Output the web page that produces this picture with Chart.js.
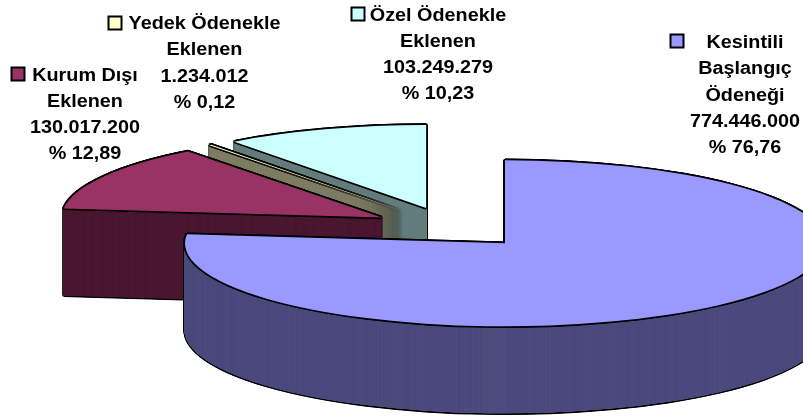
<!DOCTYPE html>
<html><head><meta charset="utf-8">
<style>html,body{margin:0;padding:0;background:#fff;overflow:hidden}canvas{display:block}</style>
<script src="https://cdn.jsdelivr.net/npm/chart.js@4"></script></head>
<body><canvas id="c" width="803" height="417"></canvas>
<script>
const categories = ['Kesintili Başlangıç Ödeneği','Kurum Dışı Eklenen','Yedek Ödenekle Eklenen','Özel Ödenekle Eklenen'];
const values = [774446000,130017200,1234012,103249279];
const valueLabels = ['774.446.000','130.017.200','1.234.012','103.249.279'];
const percentLabels = ['% 76,76','% 12,89','% 0,12','% 10,23'];
const topColors = ['#9999FF','#993366','#FFFFCC','#CCFFFF'];
const wallColors = ['#4C4C7F','#4C1933','#7F7F66','#667F7F'];
const nameLines = [['Kesintili','Başlangıç','Ödeneği'],['Kurum Dışı','Eklenen'],['Yedek Ödenekle','Eklenen'],['Özel Ödenekle','Eklenen']];

// layout
const CX=451.5, CY=227.8, RX=320, RY=83, DEPTH=87, EXPLODE=80.2, EDGE=1.7, FONT_PX=18, STRETCH=1.1, STEP=0.25;
const KY=RY/RX;
const labelLayout=[
 {x:745,y:48,step:26.25,kx:670.5,ky:34.5},
 {x:85,y:81,step:26,kx:11.5,ky:67.5},
 {x:204.5,y:29,step:26.3,kx:108.5,ky:16.5},
 {x:438,y:21,step:26,kx:351.5,ky:7.5}
];
const KEY=13;
const RING=[[1,0],[-1,0],[0,1],[0,-1],[.7,.7],[-.7,.7],[.7,-.7],[-.7,-.7]];
const SMEAR=[-.6,0,.6];

function paint(ctx,arc,color,dx,dy){
  const half=(arc.startAngle+arc.endAngle)/2;
  const saved=arc.options;
  arc.options={backgroundColor:color,borderColor:color,borderWidth:0,borderAlign:'center',offset:0,spacing:0,borderRadius:0,circular:true,borderDash:[],borderDashOffset:0};
  ctx.save();
  ctx.translate(CX+Math.cos(half)*EXPLODE+dx, CY+Math.sin(half)*EXPLODE*KY+dy);
  ctx.scale(1,KY);
  ctx.translate(-arc.x,-arc.y);
  arc.draw(ctx);
  ctx.restore();
  arc.options=saved;
}
const pie3d={
  id:'pie3d',
  beforeDatasetsDraw(chart){
    const ctx=chart.ctx, arcs=chart.getDatasetMeta(0).data;
    [3,2,1,0].forEach(i=>{
      const a=arcs[i];
      for(let z=DEPTH;z>=0;z-=1) RING.forEach(r=>paint(ctx,a,'#000',r[0]*EDGE,z+r[1]*EDGE));
      for(let z=DEPTH;z>=0;z-=STEP) SMEAR.forEach(s=>paint(ctx,a,wallColors[i],s,z));
      RING.forEach(r=>paint(ctx,a,'#000',r[0]*EDGE,r[1]*EDGE));
      paint(ctx,a,topColors[i],0,0);
    });
    return false;
  },
  afterDraw(chart){
    const ctx=chart.ctx;
    ctx.save();
    ctx.textBaseline='alphabetic';ctx.textAlign='center';ctx.fillStyle='#000';
    ctx.font='bold '+FONT_PX+'px "Liberation Sans", Arial, sans-serif';
    labelLayout.forEach((l,i)=>{
      const lines=[...nameLines[i],valueLabels[i],percentLabels[i]];
      lines.forEach((t,j)=>{
        ctx.save();
        ctx.translate(l.x,l.y+j*l.step);
        ctx.scale(STRETCH,1);
        ctx.fillText(t,0,0);
        ctx.restore();
      });
      ctx.fillStyle=topColors[i];ctx.fillRect(l.kx,l.ky,KEY,KEY);
      ctx.strokeStyle='#000';ctx.lineWidth=2;ctx.strokeRect(l.kx,l.ky,KEY,KEY);
      ctx.fillStyle='#000';
    });
    ctx.restore();
  }
};
new Chart(document.getElementById('c'),{
  type:'pie',
  data:{labels:categories,datasets:[{data:values,backgroundColor:topColors,borderWidth:0}]},
  options:{responsive:false,animation:false,radius:RX,rotation:0,
    layout:{padding:0},
    plugins:{legend:{display:false},tooltip:{enabled:false}}},
  plugins:[pie3d]
});
</script></body></html>
